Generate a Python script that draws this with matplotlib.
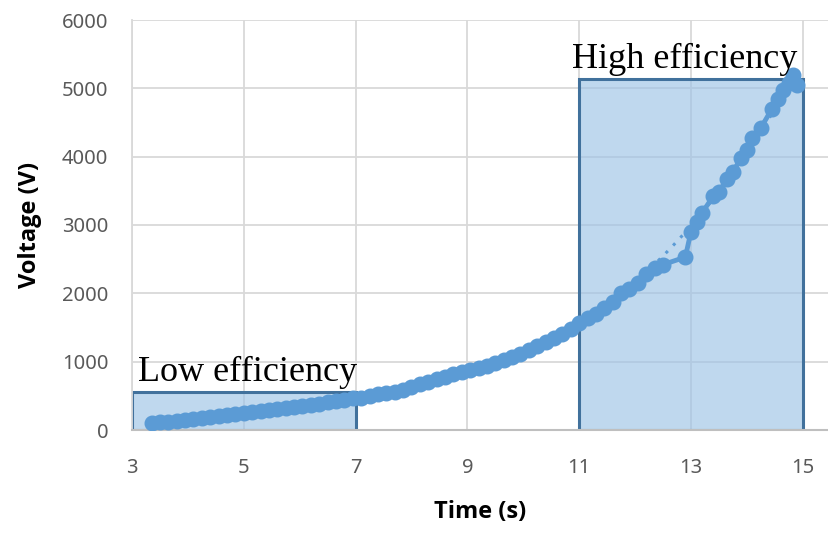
import numpy as np
import matplotlib
matplotlib.use("Agg")
import matplotlib.pyplot as plt
from matplotlib.patches import Rectangle
from matplotlib.colors import to_rgba

time_s = [3.35, 3.5, 3.65, 3.8, 3.95, 4.1, 4.25, 4.4, 4.55, 4.7, 4.85, 5.0, 5.15, 5.3,
          5.45, 5.6, 5.75, 5.9, 6.05, 6.2, 6.35, 6.5, 6.65, 6.8, 6.95,
          7.1, 7.25, 7.4, 7.55, 7.7, 7.85, 8.0, 8.15, 8.3, 8.45, 8.6, 8.75, 8.9, 9.05,
          9.2, 9.35, 9.5, 9.65, 9.8, 9.95, 10.1, 10.25, 10.4, 10.55, 10.7, 10.85, 11.0,
          11.15, 11.3, 11.45, 11.6, 11.75, 11.9, 12.05, 12.2, 12.35, 12.5, 12.9,
          13.0, 13.1, 13.2, 13.4, 13.5, 13.65, 13.75, 13.9, 14.0, 14.1, 14.25, 14.45,
          14.55, 14.65, 14.75, 14.82, 14.9]
voltage = [100, 110, 120, 135, 145, 160, 170, 185, 200, 215, 240, 250, 260, 275,
           290, 305, 320, 335, 350, 370, 385, 405, 425, 445, 465,
           475, 495, 520, 540, 560, 590, 630, 670, 700, 740, 780, 815, 850, 880,
           910, 940, 980, 1020, 1065, 1110, 1170, 1225, 1285, 1345, 1410, 1480, 1560,
           1640, 1700, 1790, 1880, 2000, 2070, 2150, 2290, 2370, 2420, 2530,
           2900, 3050, 3180, 3420, 3480, 3680, 3780, 3980, 4100, 4280, 4420, 4700,
           4850, 4980, 5080, 5200, 5050]

# highlighted regions: (x start, x end, height, label, label x, label y)
regions = [(3, 7, 550, "Low efficiency", 3.11, 720),
           (11, 15, 5130, "High efficiency", 10.87, 5300)]

x_ticks = [3, 5, 7, 9, 11, 13, 15]
y_ticks = [0, 1000, 2000, 3000, 4000, 5000, 6000]

blue = "#5b9bd5"

fig = plt.figure(figsize=(8.29, 5.35), dpi=100)
ax = fig.add_axes([132 / 829, 1 - 430 / 535, 1 - 132 / 829, 410 / 535])

ax.set_xlim(3, 15.47)
ax.set_ylim(0, 6000)
ax.set_xticks(x_ticks)
ax.set_yticks(y_ticks)
ax.grid(True, color="#d9d9d9", lw=1.3, zorder=0)
ax.set_axisbelow(True)

for sp in ["top", "right"]:
    ax.spines[sp].set_visible(False)
ax.spines["left"].set_color("#d9d9d9")
ax.spines["left"].set_linewidth(1.3)
ax.spines["bottom"].set_color("#bfbfbf")
ax.spines["bottom"].set_linewidth(1.5)
ax.tick_params(axis="x", length=0, labelsize=14.5, colors="#595959", pad=20)
ax.tick_params(axis="y", length=0, labelsize=14.5, colors="#595959", pad=17)
for lab in ax.get_xticklabels() + ax.get_yticklabels():
    lab.set_fontfamily("Noto Sans")

for x0, x1, h, label, tx, ty in regions:
    ax.add_patch(Rectangle((x0, 0), x1 - x0, h, facecolor=to_rgba("#9dc3e6", 0.65),
                           edgecolor="#41719c", lw=2.2, zorder=2))
    ax.text(tx, ty, label, fontsize=26, family="Liberation Serif", color="black",
            zorder=5)

t = np.array(time_s)
v = np.array(voltage)
coef = np.polyfit(t, v, 3)
tt = np.linspace(t.min(), t.max(), 200)
ax.plot(tt, np.polyval(coef, tt), ls=(0, (1, 2.5)), color=blue, lw=2.2, zorder=3)
ax.plot(t, v, "-o", color=blue, lw=3.5, ms=10.5, zorder=4)

ax.set_xlabel("Time (s)", fontsize=17, fontweight="bold", family="Open Sans",
              labelpad=16)
ax.set_ylabel("Voltage (V)", fontsize=17, fontweight="bold", family="Open Sans",
              labelpad=14)

fig.savefig("out.png", dpi=100)
